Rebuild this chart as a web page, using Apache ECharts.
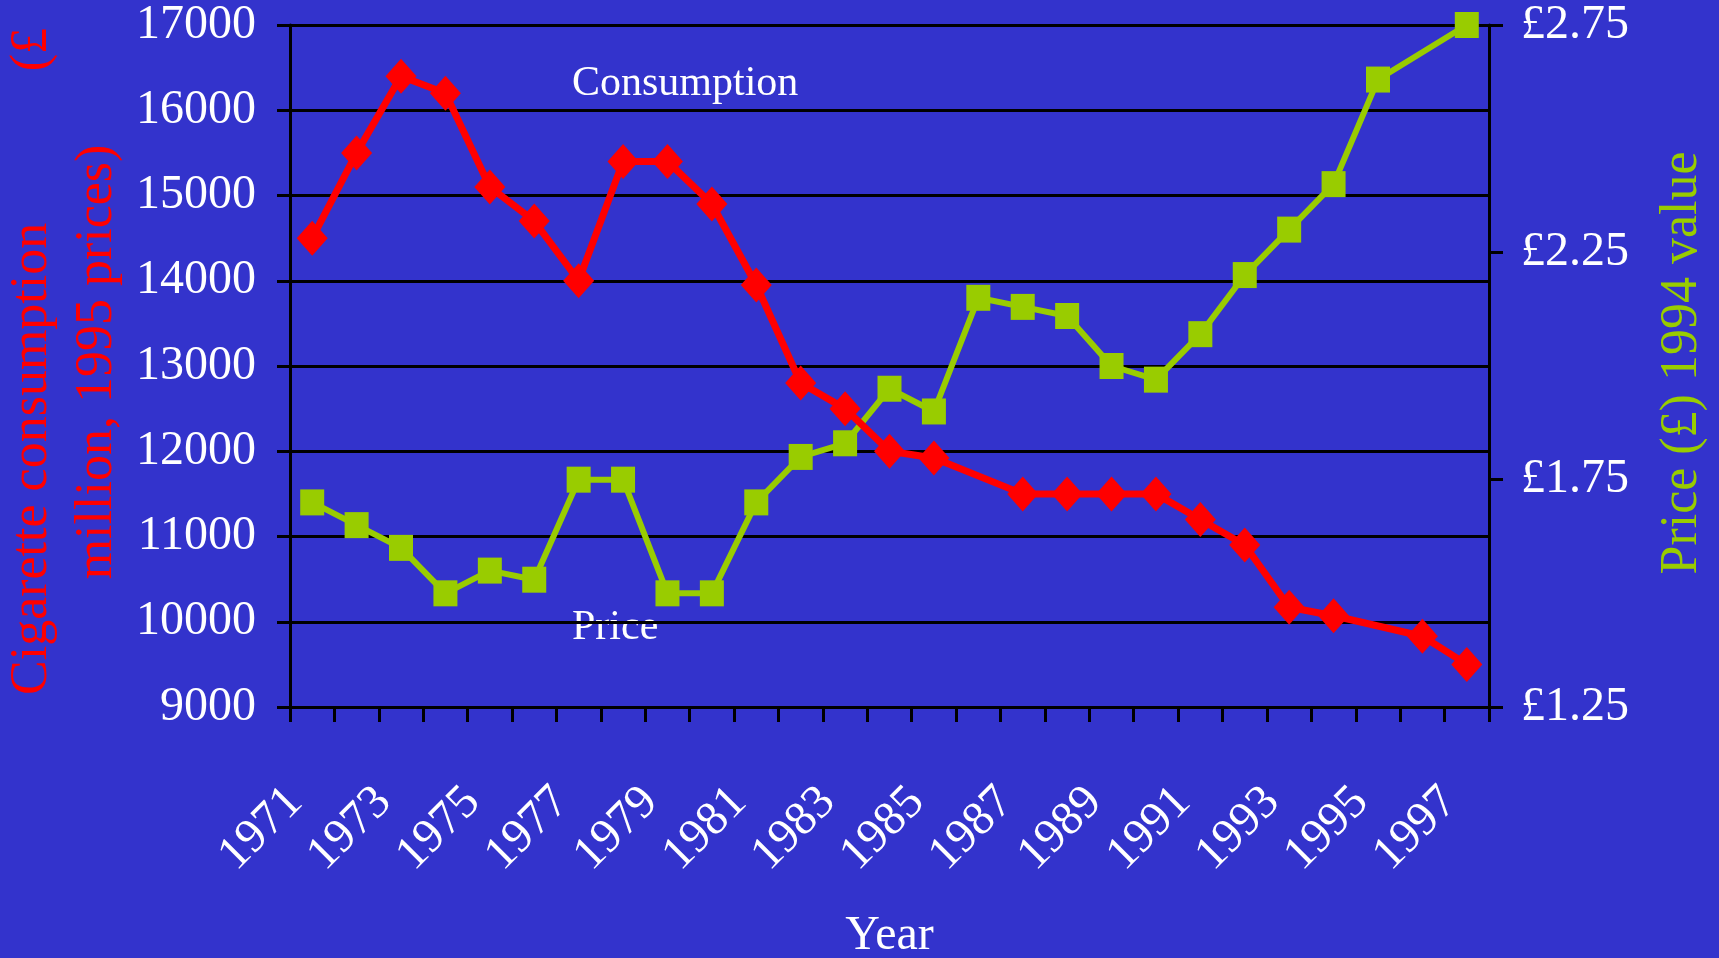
<!DOCTYPE html>
<html>
<head>
<meta charset="utf-8">
<title>Cigarette consumption and price</title>
<script src="https://cdn.jsdelivr.net/npm/echarts@6/dist/echarts.min.js"></script>
<style>
  html, body { margin: 0; padding: 0; background: #3333cc; }
  #chart { width: 1719px; height: 958px; }
</style>
</head>
<body>
<div id="chart"></div>
<script>
// 数据
var years = ["1971", "1972", "1973", "1974", "1975", "1976", "1977", "1978", "1979",
  "1980", "1981", "1982", "1983", "1984", "1985", "1986", "1987", "1988", "1989",
  "1990", "1991", "1992", "1993", "1994", "1995", "1996", "1997"];
// Cigarette consumption (£ million, 1995 prices) - gaps are joined by a straight line
var consumption = [14500, 15500, 16400, 16200, 15100, 14700, 14000, 15400, 15400,
  14900, 13950, 12800, 12500, 12000, 11920, null, 11500, 11500, 11500,
  11500, 11200, 10900, 10170, 10070, null, 9830, 9500];
// Price (£) 1994 value
var price = [1.70, 1.65, 1.60, 1.50, 1.55, 1.53, 1.75, 1.75, 1.50,
  1.50, 1.70, 1.80, 1.83, 1.95, 1.90, 2.15, 2.13, 2.11, 2.00,
  1.97, 2.07, 2.20, 2.30, 2.40, 2.63, null, 2.75];
var leftTicks = { min: 9000, max: 17000, step: 1000 };
var rightTicks = { min: 1.25, max: 2.75, step: 0.5 };

var serif = "'Liberation Serif', 'Times New Roman', serif";
var chart = echarts.init(document.getElementById("chart"));

var option = {
  backgroundColor: "#3333cc",
  animation: false,
  textStyle: { fontFamily: serif },
  grid: { left: 290, right: 230, top: 25, bottom: 251, containLabel: false, outerBoundsMode: "none" },
  xAxis: {
    type: "category",
    data: years,
    boundaryGap: true,
    name: "Year",
    nameLocation: "middle",
    nameGap: 205,
    nameTextStyle: { color: "#ffffff", fontSize: 48, fontFamily: serif },
    axisLine: { lineStyle: { color: "#000000", width: 3 } },
    axisTick: { show: true, interval: 0, length: 15, lineStyle: { color: "#000000", width: 3 } },
    axisLabel: {
      interval: 1,
      rotate: 45,
      margin: 71,
      padding: [0, 24, 0, 0],
      color: "#ffffff",
      fontSize: 48,
      fontFamily: serif
    },
    splitLine: { show: false }
  },
  yAxis: [
    {
      type: "value",
      min: leftTicks.min,
      max: leftTicks.max,
      interval: leftTicks.step,
      position: "left",
      axisLine: { show: true, lineStyle: { color: "#000000", width: 3 } },
      axisTick: { show: true, length: 13, lineStyle: { color: "#000000", width: 3 } },
      axisLabel: {
        color: "#ffffff",
        fontSize: 48,
        fontFamily: serif,
        margin: 34,
        formatter: function (v) { return String(v); }
      },
      splitLine: { show: true, lineStyle: { color: "#000000", width: 3 } }
    },
    {
      type: "value",
      min: rightTicks.min,
      max: rightTicks.max,
      interval: rightTicks.step,
      position: "right",
      axisLine: { show: true, lineStyle: { color: "#000000", width: 3 } },
      axisTick: { show: true, length: 14, lineStyle: { color: "#000000", width: 3 } },
      axisLabel: {
        color: "#ffffff",
        fontSize: 48,
        fontFamily: serif,
        margin: 32,
        formatter: function (v) { return "£" + v.toFixed(2); }
      },
      splitLine: { show: false }
    }
  ],
  series: [
    {
      name: "Price",
      type: "line",
      yAxisIndex: 1,
      data: price,
      connectNulls: true,
      symbol: "rect",
      symbolSize: [24, 26],
      showAllSymbol: true,
      lineStyle: { color: "#99cc00", width: 6 },
      itemStyle: { color: "#99cc00" },
      z: 3
    },
    {
      name: "Consumption",
      type: "line",
      yAxisIndex: 0,
      data: consumption,
      connectNulls: true,
      symbol: "diamond",
      symbolSize: [31, 35],
      showAllSymbol: true,
      lineStyle: { color: "#ff0000", width: 7 },
      itemStyle: { color: "#ff0000" },
      z: 4
    }
  ],
  graphic: [
    // left axis title, two lines rotated
    {
      type: "text", x: 32.5, y: 695, rotation: Math.PI / 2,
      style: { text: "Cigarette consumption", fill: "#ff0000", font: "52px " + serif,
        textAlign: "left", textVerticalAlign: "middle", align: "left", verticalAlign: "middle" }
    },
    {
      type: "text", x: 32.5, y: 28, rotation: Math.PI / 2,
      style: { text: "(£", fill: "#ff0000", font: "52px " + serif,
        textAlign: "right", textVerticalAlign: "middle", align: "right", verticalAlign: "middle" }
    },
    {
      type: "text", x: 97.5, y: 362, rotation: Math.PI / 2,
      style: { text: "million, 1995 prices)", fill: "#ff0000", font: "52px " + serif,
        textAlign: "center", textVerticalAlign: "middle", align: "center", verticalAlign: "middle" }
    },
    // right axis title
    {
      type: "text", x: 1682, y: 363, rotation: Math.PI / 2,
      style: { text: "Price (£) 1994 value", fill: "#99cc00", font: "52px " + serif,
        textAlign: "center", textVerticalAlign: "middle", align: "center", verticalAlign: "middle" }
    },
    // series labels
    {
      type: "text", x: 572, y: 84,
      style: { text: "Consumption", fill: "#ffffff", font: "42px " + serif,
        textAlign: "left", textVerticalAlign: "middle", align: "left", verticalAlign: "middle" }
    },
    {
      type: "text", x: 572, y: 628,
      style: { text: "Price", fill: "#ffffff", font: "42px " + serif,
        textAlign: "left", textVerticalAlign: "middle", align: "left", verticalAlign: "middle" }
    }
  ]
};

chart.setOption(option);
</script>
</body>
</html>
